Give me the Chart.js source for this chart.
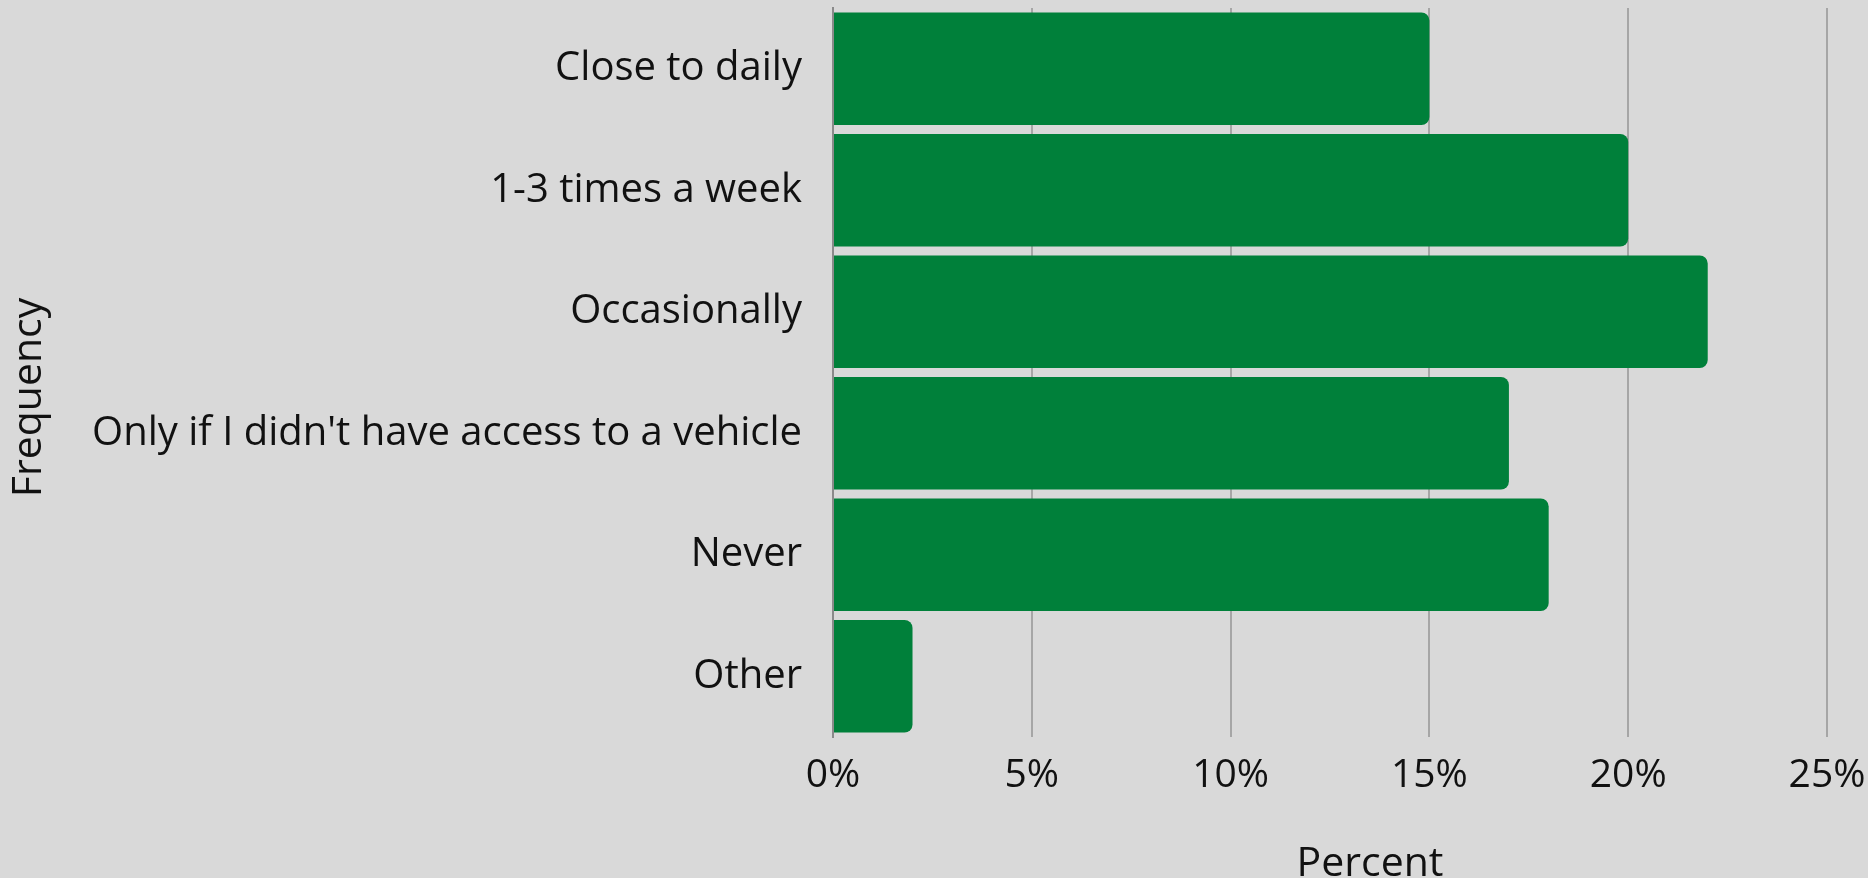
<!DOCTYPE html>
<html>
<head>
<meta charset="utf-8">
<script src="https://cdn.jsdelivr.net/npm/chart.js@4"></script>
<style>
  html, body { margin: 0; padding: 0; background: #d9d9d9; }
  #wrap { width: 1868px; height: 878px; position: relative; }
</style>
</head>
<body>
<div id="wrap"><canvas id="myChart"></canvas></div>
<script>
// dane wykresu
const categories = ['Close to daily', '1-3 times a week', 'Occasionally',
    "Only if I didn't have access to a vehicle", 'Never', 'Other'];
const percentValues = [15, 20, 22, 17, 18, 2];
const xTickValues = [0, 5, 10, 15, 20, 25];
const xTitle = 'Percent';
const yTitle = 'Frequency';

const fontName = '"Open Sans", "Noto Sans", sans-serif';

// tytuły osi rysowane względem obszaru wykresu
const axisTitles = {
    id: 'axisTitles',
    afterDraw: function (chart) {
        const c = chart.ctx;
        const area = chart.chartArea;
        c.save();
        c.fillStyle = '#111';
        c.font = '41px ' + fontName;
        c.textAlign = 'center';
        c.textBaseline = 'alphabetic';
        c.fillText(xTitle, (area.left + area.right) / 2 + 40, chart.height - 2);
        c.translate(41, (area.top + area.bottom) / 2 + 25);
        c.rotate(-Math.PI / 2);
        c.fillText(yTitle, 0, 0);
        c.restore();
    }
};

const ctx = document.getElementById('myChart').getContext('2d');
const chart = new Chart(ctx, {
    type: 'bar',
    data: {
        labels: categories,
        datasets: [{
            label: xTitle,
            data: percentValues,
            backgroundColor: '#00803a',
            borderWidth: 0,
            borderRadius: 8,
            barPercentage: 0.926,
            categoryPercentage: 1.0
        }]
    },
    plugins: [axisTitles],
    options: {
        indexAxis: 'y',
        responsive: true,
        maintainAspectRatio: false,
        animation: false,
        layout: { padding: { left: 0, right: 41, top: 8, bottom: 0 } },
        plugins: {
            legend: { display: false },
            tooltip: { enabled: false }
        },
        scales: {
            x: {
                min: 0,
                max: 25,
                afterBuildTicks: function (scale) {
                    scale.ticks = xTickValues.map(v => ({ value: v }));
                },
                afterFit: function (scale) { scale.height = 141; },
                grid: {
                    color: '#a6a6a6',
                    lineWidth: 2,
                    drawTicks: true,
                    tickLength: 15,
                    tickColor: 'rgba(0,0,0,0)'
                },
                border: { display: false },
                ticks: {
                    color: '#111',
                    padding: 0,
                    font: { family: fontName, size: 39 },
                    callback: function (v) { return v + '%'; }
                }
            },
            y: {
                afterFit: function (scale) { scale.width = 833; },
                grid: {
                    display: true,
                    drawOnChartArea: false,
                    drawTicks: true,
                    tickLength: 31,
                    tickColor: 'rgba(0,0,0,0)'
                },
                border: { display: true, color: '#8a8a8a', width: 2 },
                ticks: {
                    color: '#111',
                    padding: 0,
                    font: { family: fontName, size: 40, lineHeight: 0.3 }
                }
            }
        }
    }
});
</script>
</body>
</html>
